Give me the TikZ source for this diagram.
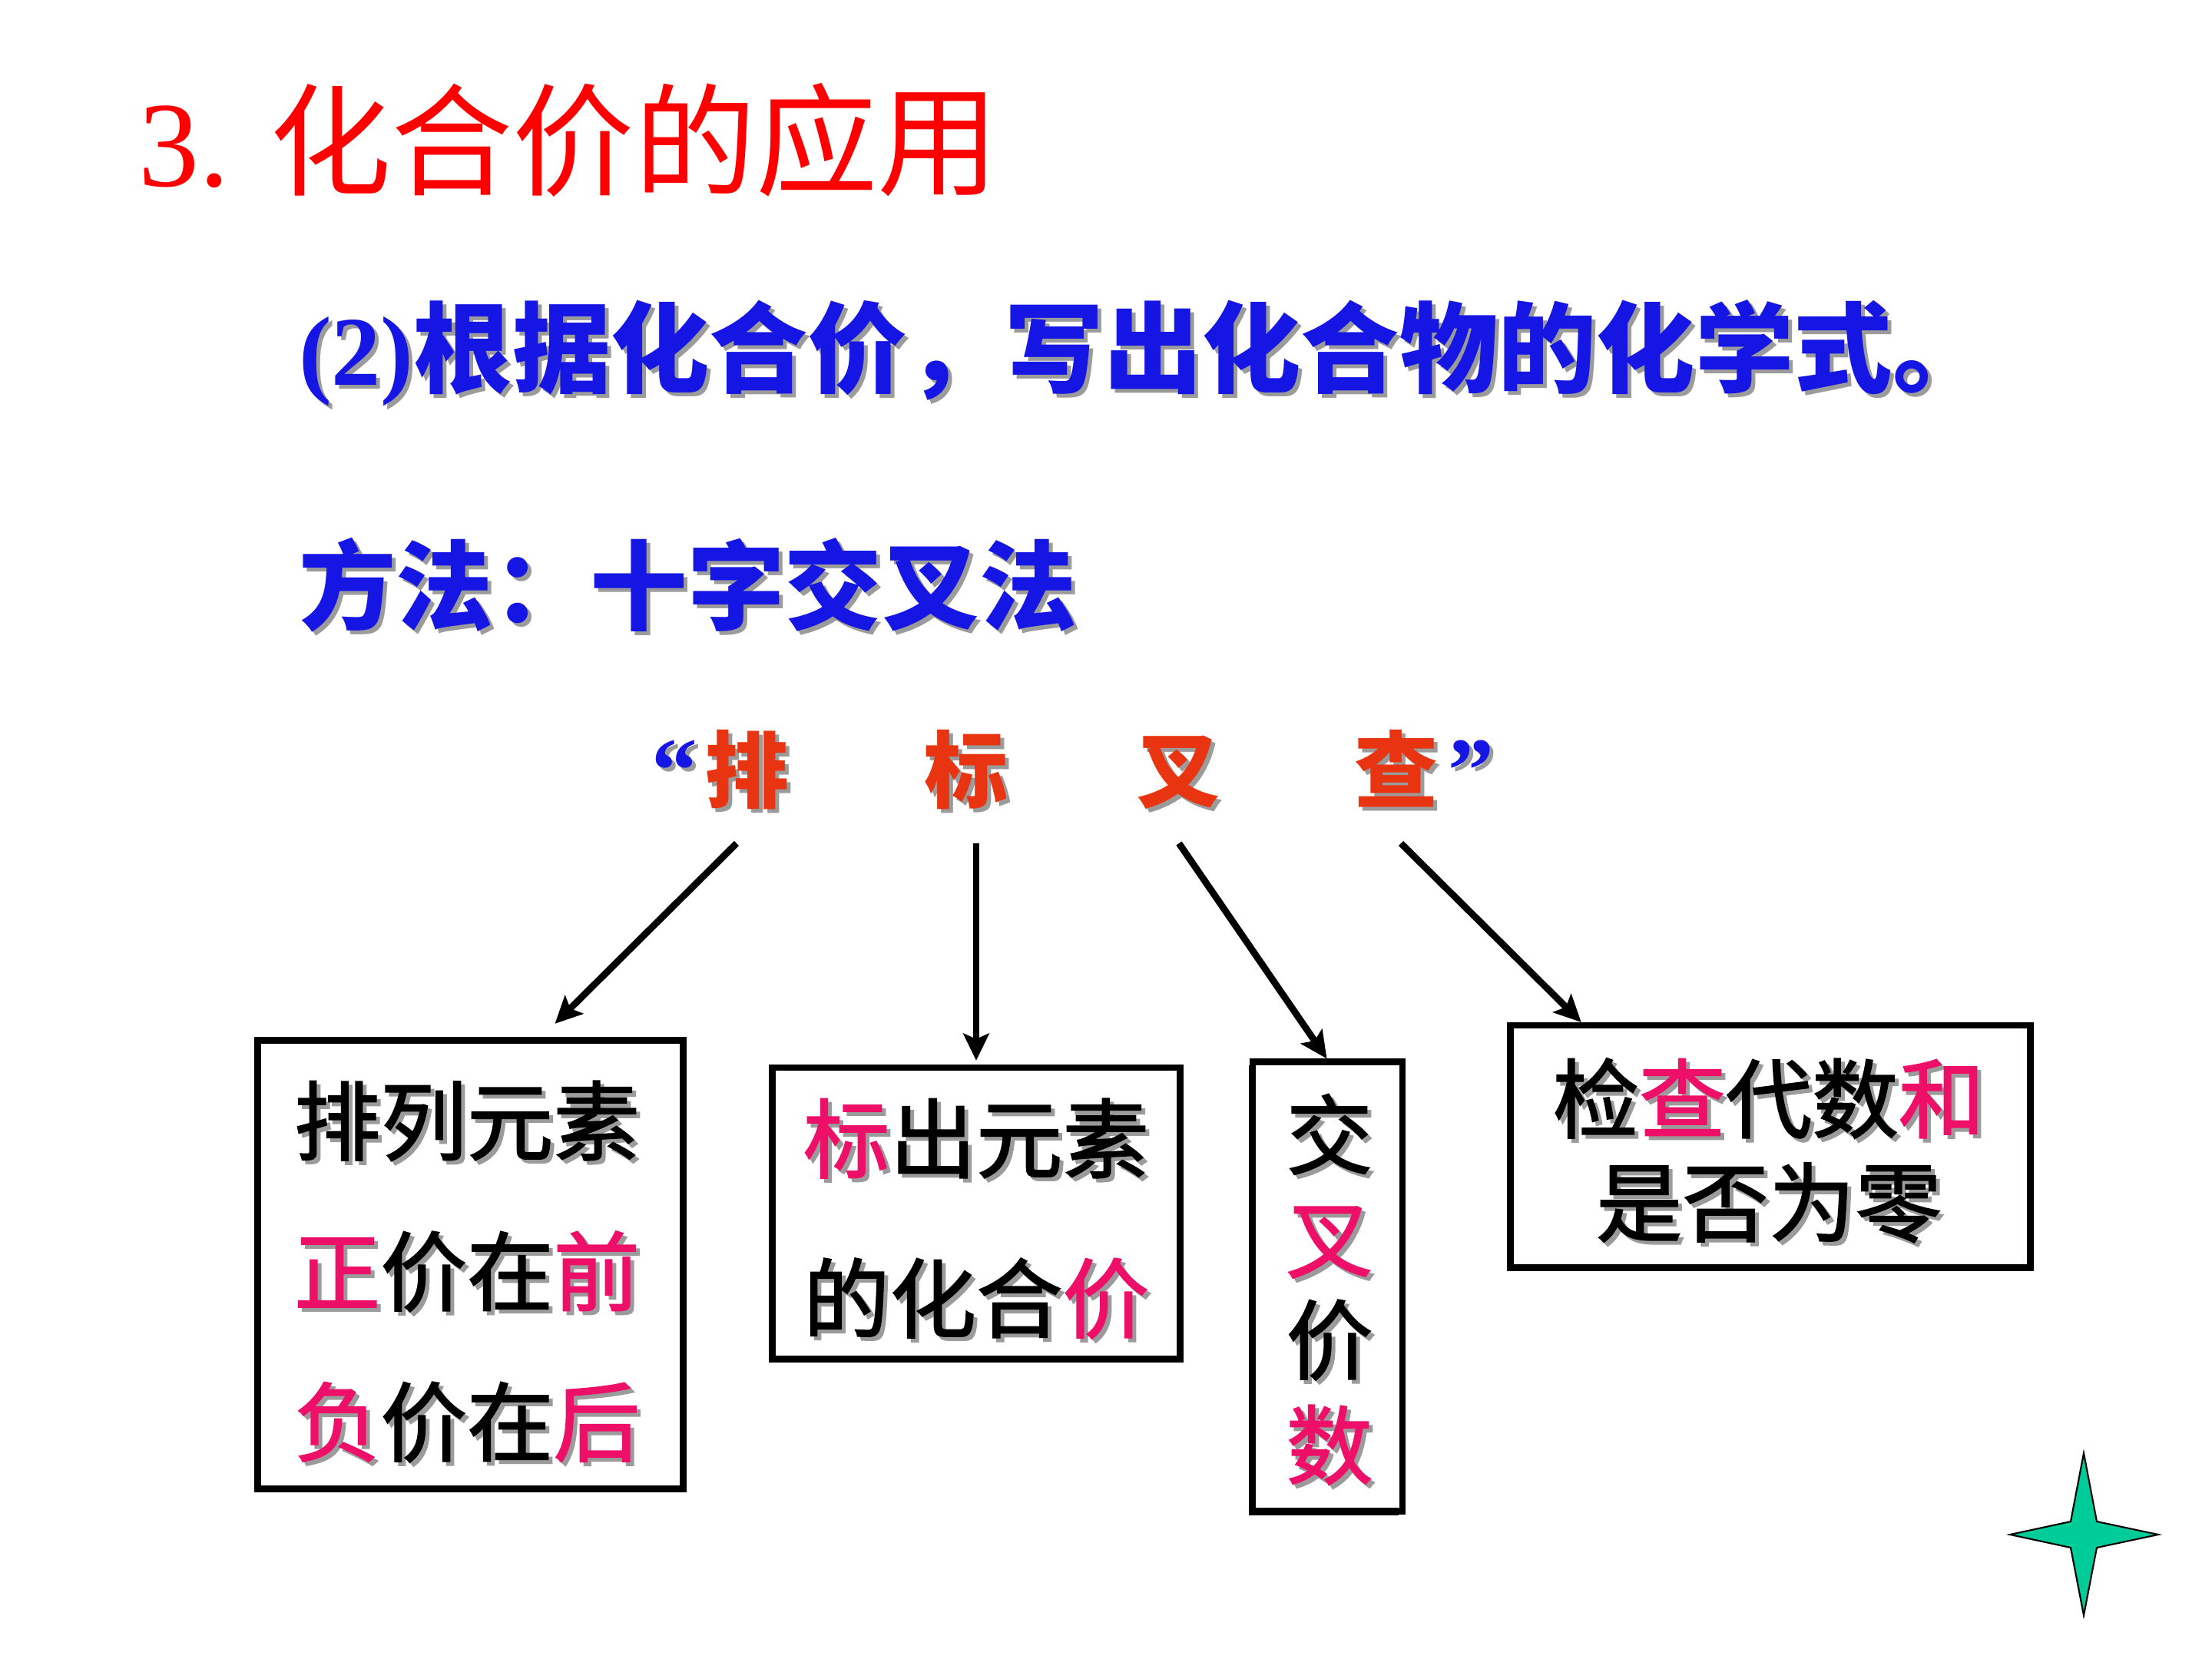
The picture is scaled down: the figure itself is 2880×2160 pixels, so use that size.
\documentclass[tikz,border=0pt]{standalone}
\usepackage{fontspec}
\setmainfont{Liberation Serif}
\newfontfamily\cjk{Noto Sans CJK SC}
\newfontfamily\cjkm{Noto Sans CJK SC}[FakeBold=1.6]
\usetikzlibrary{arrows.meta,calc,shadows}
\definecolor{titlered}{RGB}{255,0,0}
\definecolor{blu}{RGB}{22,22,228}
\definecolor{ored}{RGB}{232,52,16}
\definecolor{pnk}{RGB}{238,16,104}
\definecolor{shd}{RGB}{155,155,155}
\definecolor{stargreen}{RGB}{0,204,153}
\newcommand\hlc{\color{pnk}}
\newcommand\hl[1]{{\hlc #1}}
% shadowed text node: #1 name, #2 position, #3 style, #4 text
\newcommand\shnode[4]{%
  \node[anchor=base, #3, text=shd, shift={(5,5)}] at #2 {\let\hlc\relax #4};
  \node[anchor=base, #3] (#1) at #2 {#4};}
\begin{document}
\begin{tikzpicture}[x=0.01cm,y=-0.01cm,
  every node/.style={inner sep=0pt,outer sep=0pt},
  bluetext/.style={text=blu,font=\fontsize{36.5pt}{44pt}\selectfont\bfseries},
  keytext/.style={text=ored,font=\fontsize{31pt}{37pt}\selectfont\bfseries\cjk},
  boxtext/.style={text=black,font=\fontsize{32pt}{38pt}\selectfont\cjkm},
  framebox/.style={draw=black,line width=2.5pt,fill=white,
    drop shadow={shadow xshift=-0.05cm,shadow yshift=-0.05cm,fill=black,opacity=1}},
  arr/.style={line width=2.5pt,-{Stealth[length=10pt,width=9.5pt,inset=2pt]}}]
\useasboundingbox (0,0) rectangle (2880,2160);

% title
\node[anchor=base west,text=titlered,font=\fontsize{45pt}{54pt}\selectfont] (title)
  at (180,242) {3. {\cjk 化合价的应用}};

% blue lines
\shnode{sub}{(389,501)}{anchor=base west,bluetext}{(2){\cjk 根据化合价，写出化合物的化学式。}}
\shnode{method}{(389,810)}{anchor=base west,bluetext,font=\fontsize{36pt}{43pt}\selectfont\bfseries}{\cjk 方法：十字交叉法}

% keywords
\shnode{q1}{(908,1043)}{anchor=base east,bluetext,font=\fontsize{34pt}{40pt}\selectfont\bfseries}{“}
\shnode{k1}{(973,1043)}{keytext}{排}
\shnode{k2}{(1258,1043)}{keytext}{标}
\shnode{k3}{(1534,1043)}{keytext}{叉}
\shnode{k4}{(1818,1043)}{keytext}{查}
\shnode{q2}{(1885,1043)}{anchor=base west,bluetext,font=\fontsize{34pt}{40pt}\selectfont\bfseries}{”}

% boxes
\node[framebox,minimum width=5.53cm,minimum height=5.83cm] (b1) at (612.5,1646.5) {};
\node[framebox,minimum width=5.30cm,minimum height=3.79cm] (b2) at (1271,1579.5) {};
\node[framebox,minimum width=1.95cm,minimum height=5.85cm] (b3) at (1728.5,1675) {};
\node[framebox,minimum width=6.76cm,minimum height=3.15cm] (b4) at (2305,1492.5) {};

% box texts
\shnode{b1l1}{(608,1502)}{boxtext}{排列元素}
\shnode{b1l2}{(608,1698)}{boxtext}{\hl{正}价在\hl{前}}
\shnode{b1l3}{(608,1894)}{boxtext}{\hl{负}价在\hl{后}}
\shnode{b2l1}{(1271,1525)}{boxtext}{\hl{标}出元素}
\shnode{b2l2}{(1271,1733)}{boxtext}{的化合\hl{价}}
\shnode{b3l1}{(1731,1520)}{boxtext}{交}
\shnode{b3l2}{(1731,1655)}{boxtext}{\hl{叉}}
\shnode{b3l3}{(1731,1787)}{boxtext}{价}
\shnode{b3l4}{(1731,1924)}{boxtext}{\hl{数}}
\shnode{b4l1}{(2303,1473)}{boxtext}{检\hl{查}代数\hl{和}}
\shnode{b4l2}{(2303,1608)}{boxtext}{是否为零}

% arrows
\coordinate (s1) at ($(k1.base)+(-14,55)$);
\coordinate (s2) at ($(k2.base)+(13,55)$);
\coordinate (s3) at ($(k3.base)+(1,55)$);
\coordinate (s4) at ($(k4.base)+(6,55)$);
\coordinate (e1) at ($(b1.north)+(110,-22)$);
\coordinate (e2) at ($(b2.north)+(0,-9)$);
\coordinate (e3) at ($(b3.north)+(-1,-4)$);
\coordinate (e4) at ($(b4.north west)+(92,-4)$);
\draw[arr] (s1) -- (e1);
\draw[arr] (s2) -- (e2);
\draw[arr] (s3) -- (e3);
\draw[arr] (s4) -- (e4);

% star
\filldraw[fill=stargreen,draw=black,line width=0.6pt]
  (2713,1892) -- (2730,1981) -- (2810,1998) -- (2730,2015) -- (2713,2103)
  -- (2696,2015) -- (2617,1998) -- (2696,1981) -- cycle;
\end{tikzpicture}
\end{document}
